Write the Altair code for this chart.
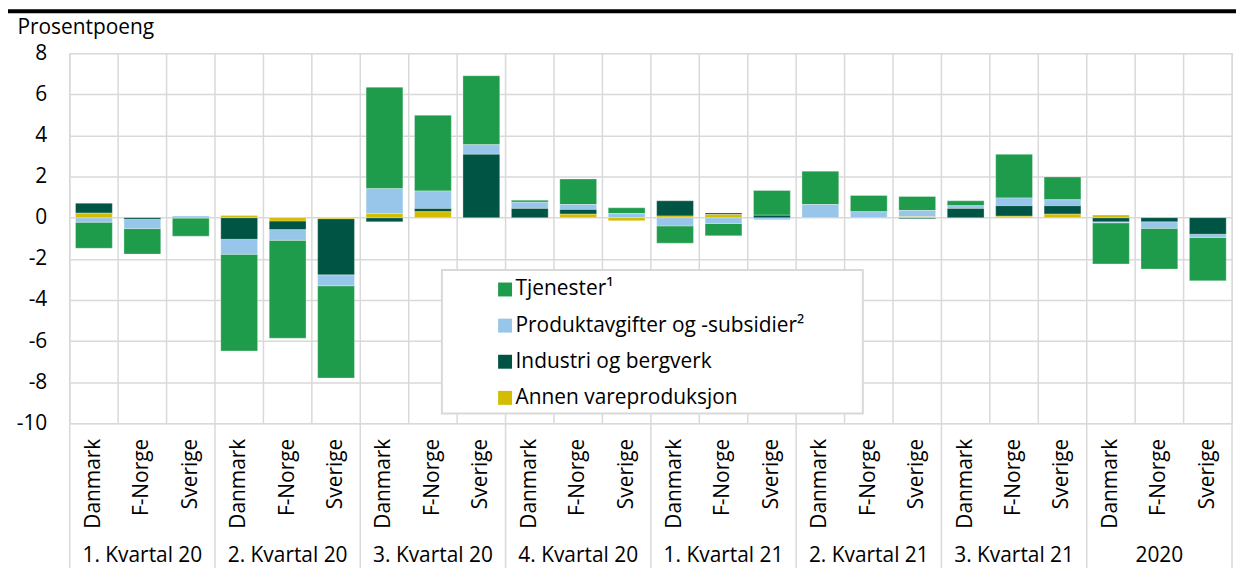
import altair as alt
import pandas as pd

groups = ["1. Kvartal 20", "2. Kvartal 20", "3. Kvartal 20", "4. Kvartal 20",
          "1. Kvartal 21", "2. Kvartal 21", "3. Kvartal 21", "2020"]
countries = ["Danmark", "F-Norge", "Sverige"]
series = ["Tjenester¹", "Produktavgifter og -subsidier²", "Industri og bergverk", "Annen vareproduksjon"]
colors = ["#1f9c4b", "#97c6ea", "#005444", "#d4bc00"]
stack_order = [3, 2, 1, 0]

# values per group: Danmark, F-Norge, Sverige
tjenester = [-1.27, -1.24, -0.88,
             -4.70, -4.76, -4.49,
             4.93, 3.68, 3.35,
             0.10, 1.24, 0.28,
             -0.84, -0.60, 1.20,
             1.62, 0.79, 0.68,
             0.24, 2.12, 1.11,
             -2.00, -1.98, -2.11]
produkt = [-0.22, -0.45, 0.08,
           -0.73, -0.52, -0.53,
           1.21, 0.85, 0.47,
           0.30, 0.24, 0.20,
           -0.40, -0.28, -0.10,
           0.64, 0.29, 0.30,
           0.13, 0.38, 0.29,
           -0.05, -0.32, -0.16]
industri = [0.48, -0.08, -0.02,
            -1.05, -0.42, -2.73,
            -0.20, 0.16, 3.08,
            0.45, 0.23, 0.0,
            0.74, 0.08, 0.12,
            0.0, 0.0, -0.05,
            0.45, 0.51, 0.41,
            -0.20, -0.20, -0.80]
annen = [0.22, 0.0, 0.0,
         0.10, -0.16, -0.05,
         0.20, 0.29, 0.0,
         0.0, 0.17, -0.15,
         0.08, 0.15, 0.0,
         0.0, 0.0, 0.05,
         0.0, 0.07, 0.17,
         0.13, 0.0, 0.0]
y_ticks = [-10, -8, -6, -4, -2, 0, 2, 4, 6, 8]

keys = [f"{g}|{c}" for g in groups for c in countries]
rows = []
for s, vals, o in zip(series, [tjenester, produkt, industri, annen], stack_order):
    for k, v in zip(keys, vals):
        if v != 0:
            rows.append({"key": k, "serie": s, "verdi": v, "ord": o})
df = pd.DataFrame(rows)

W, H = 1168, 372
FONT = "Open Sans"
GRID = "#d9d9d9"

xscale = alt.Scale(domain=keys, paddingInner=0, paddingOuter=0)


def xenc(band=0.5):
    return alt.X("key:N", scale=xscale, sort=keys, bandPosition=band, axis=None)


bars = alt.Chart(df).mark_bar(
    width=alt.RelativeBandSize(0.76), stroke="white", strokeWidth=0.5, strokeOpacity=0.6
).encode(
    x=alt.X("key:N", scale=xscale, sort=keys, axis=None),
    y=alt.Y("verdi:Q", stack="zero", scale=alt.Scale(domain=[-10, 8], nice=False, zero=False),
            axis=alt.Axis(values=y_ticks, title="Prosentpoeng", titleAngle=0, titleAlign="left",
                          titleBaseline="alphabetic", titleX=-53, titleY=-20, titleFont=FONT,
                          titleFontSize=21, titleFontWeight="normal", titleColor="black",
                          labelExpr="'' + datum.value", labelFont=FONT, labelFontSize=21,
                          labelColor="black", labelPadding=23, ticks=False, tickSize=0,
                          domain=False, gridColor=GRID, gridWidth=1.5)),
    color=alt.Color("serie:N", scale=alt.Scale(domain=series, range=colors), legend=alt.Legend(
        title=None, orient="none", legendX=427, legendY=227, symbolType="square",
        symbolSize=196, symbolStrokeWidth=0, symbolOpacity=1, labelFont=FONT, labelFontSize=21,
        labelColor="black", labelOffset=0, rowPadding=14.3, padding=0, labelLimit=600, zindex=1)),
    order=alt.Order("ord:Q"),
)

# vertical grid lines at every column edge
col_df = pd.DataFrame({"key": keys, "land": [k.split("|")[1] for k in keys]})
last_df = pd.DataFrame({"key": [keys[-1]]})
vgrid = alt.Chart(col_df).mark_rule(color=GRID, strokeWidth=1.5).encode(
    x=xenc(0), y=alt.value(0), y2=alt.value(H))
vgrid_end = alt.Chart(last_df).mark_rule(color=GRID, strokeWidth=1.5).encode(
    x=xenc(1), y=alt.value(0), y2=alt.value(H + 150))

country_labels = alt.Chart(col_df).mark_text(
    font=FONT, fontSize=21, color="black", angle=270, align="right", baseline="middle"
).encode(x=xenc(0.5), y=alt.value(H + 15.5), text="land:N")

one = pd.DataFrame({"a": [0]})
legend_box = alt.Chart(one).mark_rect(fill="white", stroke=GRID, strokeWidth=2).encode(
    x=alt.value(374), x2=alt.value(797), y=alt.value(218), y2=alt.value(362))

top_line = alt.Chart(one).mark_rule(color="black", strokeWidth=4).encode(
    x=alt.value(-62), x2=alt.value(W + 6), y=alt.value(-42))

sep_df = pd.DataFrame({"key": [f"{g}|{countries[0]}" for g in groups]})
seps = alt.Chart(sep_df).mark_rule(color=GRID, strokeWidth=1.5).encode(
    x=xenc(0), y=alt.value(H), y2=alt.value(H + 150))

lab_df = pd.DataFrame({"key": [f"{g}|{countries[1]}" for g in groups], "gruppe": groups})
group_labels = alt.Chart(lab_df).mark_text(
    font=FONT, fontSize=21, color="black", baseline="alphabetic", align="center"
).encode(x=xenc(0.5), y=alt.value(H + 139), text="gruppe:N")

chart = alt.layer(vgrid, vgrid_end, seps, bars, legend_box, country_labels, group_labels, top_line).properties(
    width=W, height=H,
    padding={"left": 62, "top": 44, "right": 4, "bottom": 144},
    autosize=alt.AutoSizeParams(type="none"),
).configure_view(stroke=None).configure(font=FONT)

chart.save("out.html", embed_options={"renderer": "svg", "actions": False})
